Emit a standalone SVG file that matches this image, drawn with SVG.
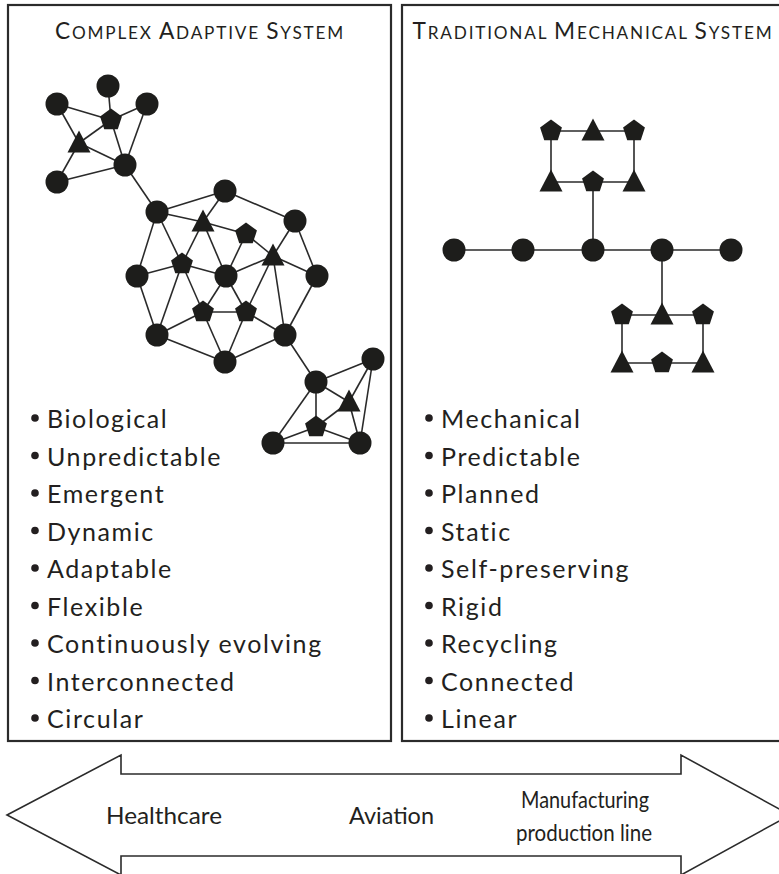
<svg xmlns="http://www.w3.org/2000/svg" xmlns:xlink="http://www.w3.org/1999/xlink" width="779" height="874" viewBox="0 0 779 874">
<style>
.box{fill:#fff;stroke:#2b2b2b;stroke-width:2.2}
.title{font-family:Lato,'Noto Sans',sans-serif;font-size:17.2px;fill:#231f20;letter-spacing:1.8px}
.cap{font-size:22.7px}
.item{font-family:Lato,'Noto Sans',sans-serif;font-size:25px;fill:#231f20;letter-spacing:1.6px}
.bul{fill:#231f20}
.edge{stroke:#2a2a2a;stroke-width:1.6;fill:none}
.nd{fill:#1d1d1b}
.arrow{fill:#fff;stroke:#2b2b2b;stroke-width:1.6}
.lab{font-family:Lato,'Noto Sans',sans-serif;font-size:23px;fill:#231f20}
</style>
<defs>
<circle id="cir" r="11.5" class="nd"/>
<path id="pen" class="nd" d="M0,-11.5 L10.94,-3.55 L6.76,9.3 L-6.76,9.3 L-10.94,-3.55Z"/>
<path id="tri" class="nd" d="M0,-12.5 L11.5,9.5 L-11.5,9.5Z"/>
</defs>

<rect class="box" x="8" y="5" width="383" height="736"/>
<rect class="box" x="402" y="5" width="400" height="736"/>

<text class="title" x="200" y="39" text-anchor="middle"><tspan class="cap">C</tspan>OMPLEX <tspan class="cap">A</tspan>DAPTIVE <tspan class="cap">S</tspan>YSTEM</text>
<text class="title" x="593" y="39" text-anchor="middle"><tspan class="cap">T</tspan>RADITIONAL <tspan class="cap">M</tspan>ECHANICAL <tspan class="cap">S</tspan>YSTEM</text>

<g id="connectors">
<line class="edge" x1="57" y1="104" x2="111" y2="120"/>
<line class="edge" x1="108" y1="86" x2="111" y2="120"/>
<line class="edge" x1="147" y1="104" x2="111" y2="120"/>
<line class="edge" x1="111" y1="120" x2="79" y2="143"/>
<line class="edge" x1="111" y1="120" x2="125" y2="165"/>
<line class="edge" x1="147" y1="104" x2="125" y2="165"/>
<line class="edge" x1="57" y1="104" x2="79" y2="143"/>
<line class="edge" x1="79" y1="143" x2="125" y2="165"/>
<line class="edge" x1="57" y1="182" x2="79" y2="143"/>
<line class="edge" x1="57" y1="182" x2="125" y2="165"/>
<line class="edge" x1="125" y1="165" x2="157" y2="212"/>
<line class="edge" x1="157" y1="212" x2="225" y2="191"/>
<line class="edge" x1="157" y1="212" x2="203" y2="222"/>
<line class="edge" x1="157" y1="212" x2="137" y2="276"/>
<line class="edge" x1="157" y1="212" x2="182" y2="264"/>
<line class="edge" x1="225" y1="191" x2="203" y2="222"/>
<line class="edge" x1="225" y1="191" x2="295" y2="221"/>
<line class="edge" x1="203" y1="222" x2="246" y2="234"/>
<line class="edge" x1="203" y1="222" x2="182" y2="264"/>
<line class="edge" x1="203" y1="222" x2="226" y2="276"/>
<line class="edge" x1="246" y1="234" x2="226" y2="276"/>
<line class="edge" x1="246" y1="234" x2="273" y2="256"/>
<line class="edge" x1="295" y1="221" x2="273" y2="256"/>
<line class="edge" x1="295" y1="221" x2="317" y2="276"/>
<line class="edge" x1="273" y1="256" x2="317" y2="276"/>
<line class="edge" x1="273" y1="256" x2="226" y2="276"/>
<line class="edge" x1="273" y1="256" x2="246" y2="312"/>
<line class="edge" x1="273" y1="256" x2="285" y2="335"/>
<line class="edge" x1="137" y1="276" x2="182" y2="264"/>
<line class="edge" x1="137" y1="276" x2="157" y2="335"/>
<line class="edge" x1="182" y1="264" x2="226" y2="276"/>
<line class="edge" x1="182" y1="264" x2="157" y2="335"/>
<line class="edge" x1="182" y1="264" x2="203" y2="312"/>
<line class="edge" x1="226" y1="276" x2="203" y2="312"/>
<line class="edge" x1="226" y1="276" x2="246" y2="312"/>
<line class="edge" x1="203" y1="312" x2="246" y2="312"/>
<line class="edge" x1="203" y1="312" x2="157" y2="335"/>
<line class="edge" x1="203" y1="312" x2="225" y2="362"/>
<line class="edge" x1="246" y1="312" x2="225" y2="362"/>
<line class="edge" x1="246" y1="312" x2="285" y2="335"/>
<line class="edge" x1="157" y1="335" x2="225" y2="362"/>
<line class="edge" x1="225" y1="362" x2="285" y2="335"/>
<line class="edge" x1="317" y1="276" x2="285" y2="335"/>
<line class="edge" x1="285" y1="335" x2="316" y2="382"/>
<line class="edge" x1="316" y1="382" x2="373" y2="359"/>
<line class="edge" x1="316" y1="382" x2="349" y2="402"/>
<line class="edge" x1="316" y1="382" x2="316" y2="427"/>
<line class="edge" x1="316" y1="382" x2="273" y2="443"/>
<line class="edge" x1="373" y1="359" x2="349" y2="402"/>
<line class="edge" x1="373" y1="359" x2="360" y2="443"/>
<line class="edge" x1="349" y1="402" x2="360" y2="443"/>
<line class="edge" x1="349" y1="402" x2="316" y2="427"/>
<line class="edge" x1="316" y1="427" x2="273" y2="443"/>
<line class="edge" x1="316" y1="427" x2="360" y2="443"/>
<line class="edge" x1="273" y1="443" x2="360" y2="443"/>
<line class="edge" x1="551" y1="131" x2="634" y2="131"/>
<line class="edge" x1="551" y1="182" x2="634" y2="182"/>
<line class="edge" x1="551" y1="131" x2="551" y2="182"/>
<line class="edge" x1="634" y1="131" x2="634" y2="182"/>
<line class="edge" x1="593" y1="182" x2="593" y2="250"/>
<line class="edge" x1="454" y1="250" x2="731" y2="250"/>
<line class="edge" x1="662" y1="250" x2="662" y2="315"/>
<line class="edge" x1="622" y1="315" x2="703" y2="315"/>
<line class="edge" x1="622" y1="363" x2="703" y2="363"/>
<line class="edge" x1="622" y1="315" x2="622" y2="363"/>
<line class="edge" x1="703" y1="315" x2="703" y2="363"/>
</g>

<g id="n-c1a"><use href="#cir" x="108" y="86"/></g>
<g id="n-c1b"><use href="#cir" x="57" y="104"/></g>
<g id="n-c1c"><use href="#cir" x="147" y="104"/></g>
<g id="n-p1"><use href="#pen" x="111" y="120"/></g>
<g id="n-t1"><use href="#tri" x="79" y="143"/></g>
<g id="n-c1d"><use href="#cir" x="125" y="165"/></g>
<g id="n-c1e"><use href="#cir" x="57" y="182"/></g>

<g id="n-B"><use href="#cir" x="157" y="212"/></g>
<g id="n-C"><use href="#cir" x="225" y="191"/></g>
<g id="n-T1"><use href="#tri" x="203" y="222"/></g>
<g id="n-P1"><use href="#pen" x="246" y="234"/></g>
<g id="n-D"><use href="#cir" x="295" y="221"/></g>
<g id="n-T2"><use href="#tri" x="273" y="256"/></g>
<g id="n-E"><use href="#cir" x="137" y="276"/></g>
<g id="n-P2"><use href="#pen" x="182" y="264"/></g>
<g id="n-F"><use href="#cir" x="226" y="276"/></g>
<g id="n-G"><use href="#cir" x="317" y="276"/></g>
<g id="n-P3"><use href="#pen" x="203" y="312"/></g>
<g id="n-P4"><use href="#pen" x="246" y="312"/></g>
<g id="n-H"><use href="#cir" x="157" y="335"/></g>
<g id="n-I"><use href="#cir" x="285" y="335"/></g>
<g id="n-J"><use href="#cir" x="225" y="362"/></g>

<g id="n-K"><use href="#cir" x="316" y="382"/></g>
<g id="n-L"><use href="#cir" x="373" y="359"/></g>
<g id="n-T3"><use href="#tri" x="349" y="402"/></g>
<g id="n-P5"><use href="#pen" x="316" y="427"/></g>
<g id="n-M"><use href="#cir" x="273" y="443"/></g>
<g id="n-N"><use href="#cir" x="360" y="443"/></g>

<g id="m-p-tl"><use href="#pen" x="551" y="131"/></g>
<g id="m-t-t"><use href="#tri" x="593" y="131"/></g>
<g id="m-p-tr"><use href="#pen" x="634" y="131"/></g>
<g id="m-t-bl"><use href="#tri" x="551" y="182"/></g>
<g id="m-p-bm"><use href="#pen" x="593" y="182"/></g>
<g id="m-t-br"><use href="#tri" x="634" y="182"/></g>
<g id="m-c1"><use href="#cir" x="454" y="250"/></g>
<g id="m-c2"><use href="#cir" x="523" y="250"/></g>
<g id="m-c3"><use href="#cir" x="593" y="250"/></g>
<g id="m-c4"><use href="#cir" x="662" y="250"/></g>
<g id="m-c5"><use href="#cir" x="731" y="250"/></g>
<g id="m-p-l"><use href="#pen" x="622" y="315"/></g>
<g id="m-t-m"><use href="#tri" x="662" y="315"/></g>
<g id="m-p-r"><use href="#pen" x="703" y="315"/></g>
<g id="m-t-l2"><use href="#tri" x="622" y="363"/></g>
<g id="m-p-m2"><use href="#pen" x="662" y="363"/></g>
<g id="m-t-r2"><use href="#tri" x="703" y="363"/></g>

<g id="list-left">
<circle class="bul" cx="35" cy="418" r="3.8"/><text class="item" x="47" y="428">Biological</text>
<circle class="bul" cx="35" cy="455.5" r="3.8"/><text class="item" x="47" y="465.5">Unpredictable</text>
<circle class="bul" cx="35" cy="493" r="3.8"/><text class="item" x="47" y="503">Emergent</text>
<circle class="bul" cx="35" cy="530.5" r="3.8"/><text class="item" x="47" y="540.5">Dynamic</text>
<circle class="bul" cx="35" cy="568" r="3.8"/><text class="item" x="47" y="578">Adaptable</text>
<circle class="bul" cx="35" cy="605.5" r="3.8"/><text class="item" x="47" y="615.5">Flexible</text>
<circle class="bul" cx="35" cy="643" r="3.8"/><text class="item" x="47" y="653">Continuously evolving</text>
<circle class="bul" cx="35" cy="680.5" r="3.8"/><text class="item" x="47" y="690.5">Interconnected</text>
<circle class="bul" cx="35" cy="718" r="3.8"/><text class="item" x="47" y="728">Circular</text>
</g>
<g id="list-right">
<circle class="bul" cx="429" cy="418" r="3.8"/><text class="item" x="441" y="428">Mechanical</text>
<circle class="bul" cx="429" cy="455.5" r="3.8"/><text class="item" x="441" y="465.5">Predictable</text>
<circle class="bul" cx="429" cy="493" r="3.8"/><text class="item" x="441" y="503">Planned</text>
<circle class="bul" cx="429" cy="530.5" r="3.8"/><text class="item" x="441" y="540.5">Static</text>
<circle class="bul" cx="429" cy="568" r="3.8"/><text class="item" x="441" y="578">Self-preserving</text>
<circle class="bul" cx="429" cy="605.5" r="3.8"/><text class="item" x="441" y="615.5">Rigid</text>
<circle class="bul" cx="429" cy="643" r="3.8"/><text class="item" x="441" y="653">Recycling</text>
<circle class="bul" cx="429" cy="680.5" r="3.8"/><text class="item" x="441" y="690.5">Connected</text>
<circle class="bul" cx="429" cy="718" r="3.8"/><text class="item" x="441" y="728">Linear</text>
</g>

<g id="spectrum-arrow">
<polygon class="arrow" points="7,815 121,755 121,774 681,774 681,755 790,815 681,875 681,856 121,856 121,875"/>
<text class="lab" x="106" y="824" textLength="116" lengthAdjust="spacingAndGlyphs">Healthcare</text>
<text class="lab" x="349" y="824" textLength="85" lengthAdjust="spacingAndGlyphs">Aviation</text>
<text class="lab" x="521" y="808" textLength="128" lengthAdjust="spacingAndGlyphs">Manufacturing</text>
<text class="lab" x="516" y="841" textLength="136" lengthAdjust="spacingAndGlyphs">production line</text>
</g>
</svg>
